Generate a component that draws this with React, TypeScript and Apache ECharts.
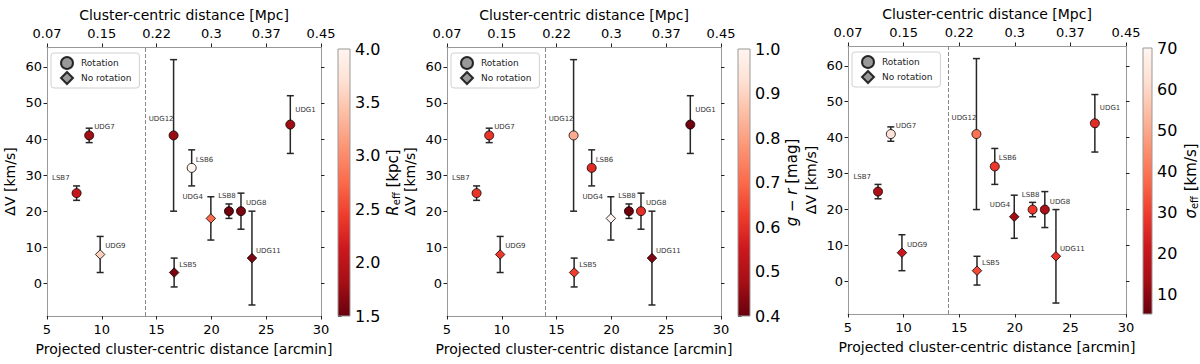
import React, { useEffect, useRef } from 'react';
import * as echarts from 'echarts';

// ---------------- data ----------------
const galaxyNames = ['LSB7', 'UDG7', 'UDG9', 'UDG12', 'LSB6', 'UDG4', 'LSB8', 'UDG8', 'LSB5', 'UDG11', 'UDG1'];
const distArcmin = [7.7, 8.85, 9.85, 16.55, 18.2, 19.95, 21.6, 22.7, 16.6, 23.7, 27.2];
const deltaV = [25, 41, 8, 41, 32, 18, 20, 20, 3, 7, 44];
const deltaVErr = [2, 2, 5, 21, 5, 6, 2, 5, 4, 13, 8];
const hasRotation = [true, true, false, true, true, false, true, true, false, false, true];
const reffKpc = [2.1, 1.8, 3.55, 1.75, 4.0, 2.75, 1.55, 1.6, 1.6, 1.6, 1.78];
const gMinusR = [0.61, 0.61, 0.62, 0.82, 0.59, 1.0, 0.41, 0.6, 0.63, 0.43, 0.41];
const sigmaEff = [14.8, 63.5, 21, 39.5, 29, 13, 29, 15, 32, 27.7, 26];

const arcminRange = [5, 30];
const arcminInterval = 5;
const mpcTickLabels = ['0.07', '0.15', '0.22', '0.3', '0.37', '0.45'];
const dvRange = [-9.05, 65.5];
const dvTicks = [0, 10, 20, 30, 40, 50, 60];
const splitDistance = 14;

const reffRange = [1.5, 4.0];
const reffTicks = [1.5, 2.0, 2.5, 3.0, 3.5, 4.0];
const grRange = [0.4, 1.0];
const grTicks = [0.4, 0.5, 0.6, 0.7, 0.8, 0.9, 1.0];
const sigmaRange = [5.2, 70];
const sigmaTicks = [10, 20, 30, 40, 50, 60, 70];

// ---------------- styling ----------------
const FONT = 'DejaVu Sans';
const reds = ['#67000d', '#a50f15', '#cb181d', '#ef3b2c', '#fb6a4a', '#fc9272', '#fcbba1', '#fee0d2', '#fff5f0'];

// label placement per galaxy: [dx, dy, align]
const labelPlacement: Record<string, [number, number, string]> = {
  LSB7: [-7, -15, 'right'],
  UDG7: [5, -8, 'left'],
  UDG9: [5, -8, 'left'],
  UDG12: [0, -16, 'right'],
  LSB6: [4, -8, 'left'],
  UDG4: [-8, -21, 'right'],
  LSB8: [-2, -15, 'center'],
  UDG8: [5, -8, 'left'],
  LSB5: [5, -8, 'left'],
  UDG11: [4, -7, 'left'],
  UDG1: [5, -15, 'left'],
};
const labelOverride: Record<string, [number, number, string]>[] = [{}, {}, { UDG4: [-4, -12, 'right'] }];

const panelLayout = [
  { grid: { left: 47, top: 47, width: 274, height: 269 }, cbar: { left: 338, top: 49, width: 12, height: 267 }, legend: { left: 51, top: 53 } },
  { grid: { left: 447, top: 47, width: 274, height: 269 }, cbar: { left: 738, top: 49, width: 12, height: 267 }, legend: { left: 451, top: 53 } },
  { grid: { left: 848, top: 46, width: 278, height: 268 }, cbar: { left: 1143, top: 48, width: 13, height: 266 }, legend: { left: 852, top: 52 } },
];

const panels = [
  { values: reffKpc, range: reffRange, ticks: reffTicks, decimals: 1, name: '{i|R}{s|eff} [kpc]' },
  { values: gMinusR, range: grRange, ticks: grTicks, decimals: 1, name: '{i|g} \u2212 {i|r} [mag]' },
  { values: sigmaEff, range: sigmaRange, ticks: sigmaTicks, decimals: 0, name: '{i|\u03c3}{s|eff} [km/s]' },
];

function buildOption() {
  const grid: any[] = [];
  const xAxis: any[] = [];
  const yAxis: any[] = [];
  const series: any[] = [];
  const visualMap: any[] = [];
  const legend: any[] = [];

  const tickStyle = { show: true, length: 3.5, inside: false, lineStyle: { color: '#222', width: 1 } };
  const spine = { show: true, onZero: false, lineStyle: { color: '#999', width: 1 } };

  panels.forEach((pn, p) => {
    grid.push({ ...panelLayout[p].grid, containLabel: false });
  });
  panels.forEach((pn, p) => {
    grid.push({ ...panelLayout[p].cbar, containLabel: false });
  });

  panels.forEach((pn, p) => {
    xAxis.push({
      type: 'value', gridIndex: p, position: 'bottom', min: arcminRange[0], max: arcminRange[1], interval: arcminInterval,
      axisLine: spine, axisTick: tickStyle, splitLine: { show: false },
      axisLabel: { fontSize: 13, color: '#000', margin: 7, fontFamily: FONT },
      name: 'Projected cluster-centric distance [arcmin]', nameLocation: 'middle', nameGap: 25.5,
      nameTextStyle: { fontSize: 14, color: '#000', fontFamily: FONT },
    });
    xAxis.push({
      type: 'value', gridIndex: p, position: 'top', min: arcminRange[0], max: arcminRange[1], interval: arcminInterval,
      axisLine: spine, axisTick: tickStyle, splitLine: { show: false },
      axisLabel: {
        fontSize: 13, color: '#000', margin: 7, fontFamily: FONT,
        formatter: (v: number) => mpcTickLabels[Math.round((v - arcminRange[0]) / arcminInterval)] ?? '',
      },
      name: 'Cluster-centric distance [Mpc]', nameLocation: 'middle', nameGap: 24.5,
      nameTextStyle: { fontSize: 14, color: '#000', fontFamily: FONT },
    });
    yAxis.push({
      type: 'value', gridIndex: p, position: 'left', min: dvRange[0], max: dvRange[1],
      axisLine: spine, axisTick: { ...tickStyle, customValues: dvTicks }, splitLine: { show: false },
      axisLabel: { fontSize: 13, color: '#000', margin: 5, fontFamily: FONT, customValues: dvTicks },
      name: '\u0394V [km/s]', nameLocation: 'middle', nameRotate: 90, nameGap: 30,
      nameTextStyle: { fontSize: 14, color: '#000', fontFamily: FONT },
    });
    yAxis.push({
      type: 'value', gridIndex: p, position: 'right', min: dvRange[0], max: dvRange[1],
      axisLine: spine, axisTick: { ...tickStyle, customValues: dvTicks }, splitLine: { show: false },
      axisLabel: { show: false },
    });
  });

  panels.forEach((pn, p) => {
    xAxis.push({ type: 'value', gridIndex: 3 + p, min: 0, max: 1, show: false });
    yAxis.push({
      type: 'value', gridIndex: 3 + p, position: 'right', min: pn.range[0], max: pn.range[1],
      axisLine: { show: false }, splitLine: { show: false },
      axisTick: { ...tickStyle, customValues: pn.ticks },
      axisLabel: {
        fontSize: 16, color: '#000', margin: 5, fontFamily: FONT, customValues: pn.ticks,
        formatter: (v: number) => v.toFixed(pn.decimals),
      },
      name: pn.name, nameLocation: 'middle', nameRotate: 90, nameGap: p === 2 ? 30 : 34,
      nameTextStyle: {
        fontSize: 15, color: '#000', fontFamily: FONT,
        rich: {
          i: { fontSize: 15, fontStyle: 'italic', fontFamily: FONT, color: '#000' },
          s: { fontSize: 10, fontFamily: FONT, color: '#000', verticalAlign: 'bottom', padding: [7, 0, 0, 0] },
        },
      },
    });
  });

  panels.forEach((pn, p) => {
    const xi = 2 * p;
    const yi = 2 * p;
    series.push({
      type: 'custom', name: 'err' + p, xAxisIndex: xi, yAxisIndex: yi, z: 2, silent: true,
      data: galaxyNames.map((n, i) => [distArcmin[i], deltaV[i] - deltaVErr[i], deltaV[i] + deltaVErr[i]]),
      encode: { x: 0, y: [1, 2] },
      renderItem: (params: any, api: any) => {
        const x = api.value(0);
        const top = api.coord([x, api.value(2)]);
        const bot = api.coord([x, api.value(1)]);
        const cap = 3.5;
        const st = { stroke: '#262626', lineWidth: 1.5 };
        return {
          type: 'group',
          children: [
            { type: 'line', shape: { x1: top[0], y1: top[1], x2: bot[0], y2: bot[1] }, style: st },
            { type: 'line', shape: { x1: top[0] - cap, y1: top[1], x2: top[0] + cap, y2: top[1] }, style: st },
            { type: 'line', shape: { x1: bot[0] - cap, y1: bot[1], x2: bot[0] + cap, y2: bot[1] }, style: st },
          ],
        };
      },
    });
    const mkItem = (i: number) => {
      const n = galaxyNames[i];
      const pl = labelOverride[p][n] || labelPlacement[n];
      return {
        name: n,
        value: [distArcmin[i], deltaV[i], pn.values[i]],
        label: {
          show: true, position: 'inside', formatter: n, align: pl[2], verticalAlign: 'middle',
          offset: [pl[0], pl[1]], fontSize: 7, color: '#333', fontFamily: FONT, textBorderWidth: 0,
        },
      };
    };
    const rotIdx = galaxyNames.map((_, i) => i).filter((i) => hasRotation[i]);
    const noRotIdx = galaxyNames.map((_, i) => i).filter((i) => !hasRotation[i]);
    const circIndex = series.length;
    series.push({
      type: 'scatter', name: 'rot' + p, xAxisIndex: xi, yAxisIndex: yi, z: 3, symbol: 'circle', symbolSize: 9,
      itemStyle: { borderColor: '#000', borderWidth: 0.8, opacity: 1 },
      data: rotIdx.map(mkItem),
      markLine: {
        silent: true, symbol: ['none', 'none'], label: { show: false },
        lineStyle: { color: '#888', type: [4, 2], width: 1 },
        data: [{ xAxis: splitDistance }],
      },
    });
    const diaIndex = series.length;
    series.push({
      type: 'scatter', name: 'norot' + p, xAxisIndex: xi, yAxisIndex: yi, z: 3, symbol: 'diamond', symbolSize: 9.5,
      itemStyle: { borderColor: '#000', borderWidth: 0.8, opacity: 1 },
      data: noRotIdx.map(mkItem),
    });
    visualMap.push({
      type: 'continuous', show: false, dimension: 2, min: pn.range[0], max: pn.range[1],
      seriesIndex: [circIndex, diaIndex], inRange: { color: reds },
    });
    series.push({
      type: 'custom', name: 'cbar' + p, xAxisIndex: 6 + p, yAxisIndex: 6 + p, silent: true,
      data: [[0, pn.range[0], pn.range[1]]],
      encode: { x: 0, y: [1, 2] },
      renderItem: (params: any, api: any) => {
        const a = api.coord([0, api.value(2)]);
        const b = api.coord([1, api.value(1)]);
        return {
          type: 'rect',
          shape: { x: a[0], y: a[1], width: b[0] - a[0], height: b[1] - a[1] },
          style: {
            fill: {
              type: 'linear', x: 0, y: 0, x2: 0, y2: 1,
              colorStops: reds.slice().reverse().map((c, k) => ({ offset: k / (reds.length - 1), color: c })),
            },
            stroke: '#999', lineWidth: 1,
          },
        };
      },
    });
    legend.push({
      left: panelLayout[p].legend.left, top: panelLayout[p].legend.top, orient: 'vertical',
      selectedMode: false, itemWidth: 12, itemHeight: 12, itemGap: 1,
      padding: [3, 8, 3, 9], borderColor: '#d0d0d0', borderWidth: 1, borderRadius: 3,
      backgroundColor: 'rgba(255,255,255,0.8)',
      textStyle: { fontSize: 9, color: '#222', fontFamily: FONT, padding: [0, 0, 0, 3] },
      data: [{ name: 'Rotation', icon: 'circle' }, { name: 'No rotation', icon: 'diamond' }],
    });
  });

  series.push({
    type: 'scatter', name: 'Rotation', xAxisIndex: 0, yAxisIndex: 0, data: [], symbol: 'circle',
    itemStyle: { color: '#808080', borderColor: '#000', borderWidth: 0.8 },
  });
  series.push({
    type: 'scatter', name: 'No rotation', xAxisIndex: 0, yAxisIndex: 0, data: [], symbol: 'diamond',
    itemStyle: { color: '#808080', borderColor: '#000', borderWidth: 0.8 },
  });

  return {
    animation: false,
    backgroundColor: '#fff',
    textStyle: { fontFamily: FONT },
    grid, xAxis, yAxis, series, visualMap, legend,
  };
}

export default function App() {
  const ref = useRef<HTMLDivElement>(null);
  useEffect(() => {
    if (!ref.current) return;
    const chart = echarts.init(ref.current, undefined, { renderer: 'svg' });
    chart.setOption(buildOption() as any);
    return () => chart.dispose();
  }, []);
  return <div ref={ref} style={{ position: 'fixed', left: 0, top: 0, width: 1200, height: 364 }} />;
}
